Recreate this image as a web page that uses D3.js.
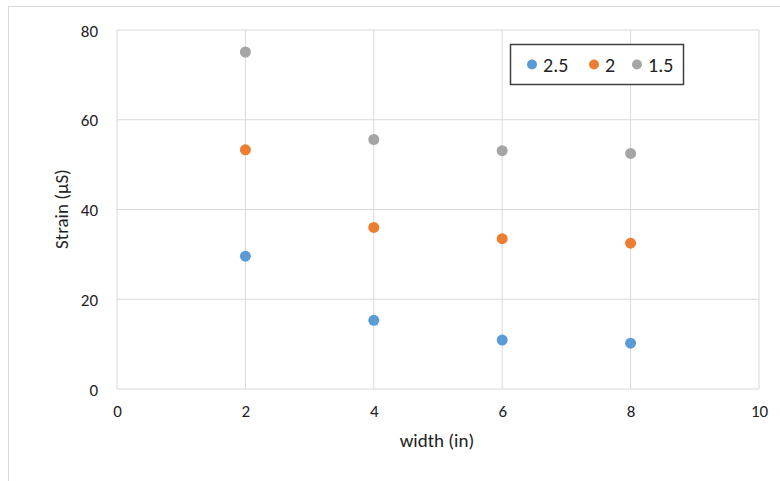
<!DOCTYPE html>
<html><head><meta charset="utf-8">
<script src="https://cdn.jsdelivr.net/npm/d3@7"></script>
<style>body{margin:0;background:#fff}svg{display:block}</style>
</head><body>
<svg id="c" width="780" height="481"></svg>
<script>
const widths = [2, 4, 6, 8];
const series25 = [29.6, 15.3, 10.9, 10.2];
const series2 = [53.3, 36.0, 33.5, 32.5];
const series15 = [75.1, 55.6, 53.1, 52.5];
const seriesNames = ["2.5", "2", "1.5"];
const seriesColors = ["#5B9BD5", "#ED7D31", "#A5A5A5"];
const xTicks = [0, 2, 4, 6, 8, 10];
const yTicks = [0, 20, 40, 60, 80];

const allSeries = [series25, series2, series15];
const svg = d3.select("#c");
const font = "Carlito, Lato, 'Open Sans', sans-serif";
const L = 117, R = 759, T = 30, B = 389;
const x = d3.scaleLinear().domain([0, 10]).range([L, R]);
const y = d3.scaleLinear().domain([0, 80]).range([B, T]);

svg.append("rect").attr("x", 8.5).attr("y", 6.5).attr("width", 800).attr("height", 500)
  .attr("fill", "#fff").attr("stroke", "#d9d9d9").attr("stroke-width", 1);

// gridlines
svg.append("g").selectAll("line.h").data(yTicks).join("line")
  .attr("x1", L).attr("x2", R).attr("y1", d => y(d)).attr("y2", d => y(d))
  .attr("stroke", "#d9d9d9").attr("stroke-width", 1);
svg.append("g").selectAll("line.v").data(xTicks).join("line")
  .attr("y1", T).attr("y2", B).attr("x1", d => x(d)).attr("x2", d => x(d))
  .attr("stroke", "#d9d9d9").attr("stroke-width", 1);

// axes labels via d3 axes
const xAxis = svg.append("g").attr("transform", `translate(0,${B})`)
  .call(d3.axisBottom(x).tickValues(xTicks).tickSize(0).tickPadding(16));
const yAxis = svg.append("g").attr("transform", `translate(${L},0)`)
  .call(d3.axisLeft(y).tickValues(yTicks).tickSize(0).tickPadding(19));
[xAxis, yAxis].forEach(a => {
  a.select(".domain").remove();
  a.selectAll("text").attr("font-family", font).attr("font-size", 17).attr("fill", "#222");
});
yAxis.selectAll("text").attr("dy", "0.36em");

// axis titles
svg.append("text").attr("x", 437).attr("y", 447).attr("text-anchor", "middle")
  .attr("font-family", font).attr("font-size", 19).attr("fill", "#222").text("width (in)");
svg.append("text").attr("transform", "translate(68,209) rotate(-90)").attr("text-anchor", "middle")
  .attr("font-family", font).attr("font-size", 19).attr("fill", "#222").text("Strain (μS)");

// points
allSeries.forEach((s, i) => {
  svg.append("g").selectAll("circle").data(s).join("circle")
    .attr("cx", (d, j) => x(widths[j])).attr("cy", d => y(d)).attr("r", 5.5)
    .attr("fill", seriesColors[i]);
});

// legend
const lg = svg.append("g");
lg.append("rect").attr("x", 510.5).attr("y", 44.5).attr("width", 173).attr("height", 40)
  .attr("fill", "#fff").attr("stroke", "#404040").attr("stroke-width", 1.5);
const lx = [532, 594, 637];
seriesNames.forEach((n, i) => {
  lg.append("circle").attr("cx", lx[i]).attr("cy", 64.5).attr("r", 5).attr("fill", seriesColors[i]);
  lg.append("text").attr("x", lx[i] + 11).attr("y", 64.5).attr("dy", "0.36em")
    .attr("font-family", font).attr("font-size", 20).attr("fill", "#222").text(n);
});
</script>
</body></html>
